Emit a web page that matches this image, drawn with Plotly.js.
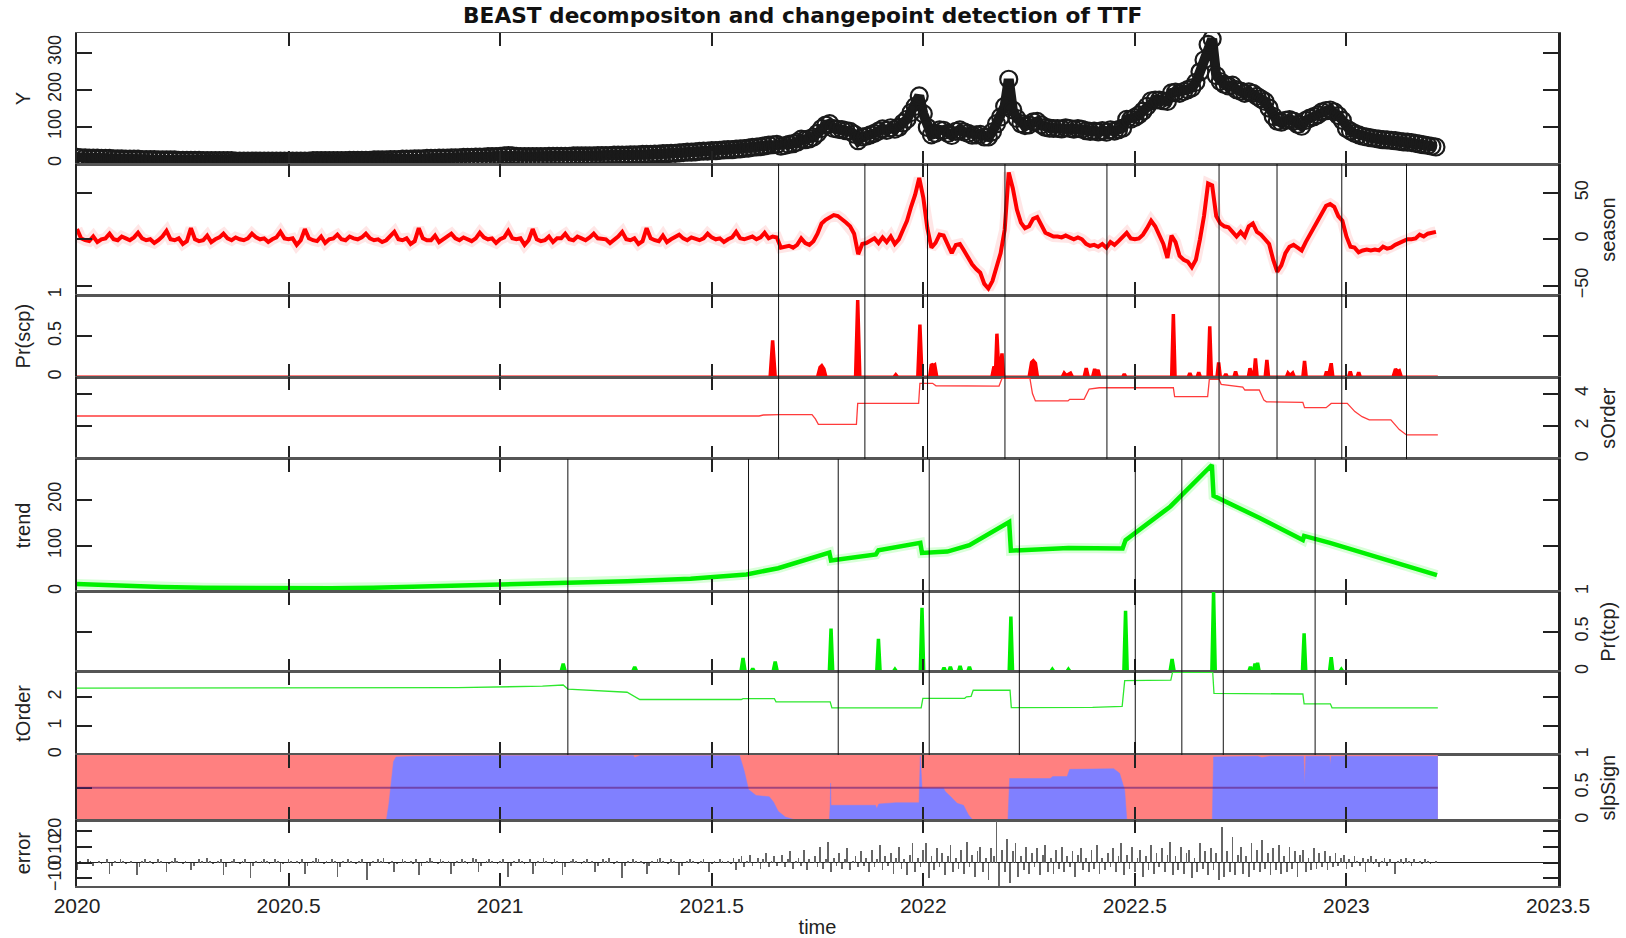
<!DOCTYPE html>
<html><head><meta charset="utf-8">
<script src="https://cdn.plot.ly/plotly-3.0.1.min.js"></script>
<style>html,body{margin:0;padding:0;background:#fff;} #chart{width:1626px;height:938px;}</style>
</head><body><div id="chart"></div>
<script>
// ---------- DATA ----------
const tStart = 2020.0;          // first observation (decimal year)
const stepHalfWeek = 1/104;      // spacing of yObs / season samples
const stepErr = 1/156;           // spacing of residual samples

const xTickVals = [2020, 2020.5, 2021, 2021.5, 2022, 2022.5, 2023, 2023.5];
const xTickText = ['2020','2020.5','2021','2021.5','2022','2022.5','2023','2023.5'];

// observed series Y
const yObs = [
17,16,16,15,15,15,14,14,14,13,13,13,12,12,
12,12,11,11,11,11,10,10,10,10,10,9,9,9,
9,9,9,8,8,8,8,8,8,8,8,7,7,7,
7,7,7,7,7,7,7,7,7,7,7,7,7,7,
7,7,8,8,8,8,8,8,8,8,8,9,9,9,
9,9,9,10,10,10,10,11,11,11,12,12,12,13,
13,13,14,14,14,15,15,15,16,16,16,17,17,17,
18,18,18,19,19,19,20,21,22,21,20,19,19,19,
19,19,19,19,20,20,20,20,20,20,21,21,21,21,
21,21,22,22,22,22,23,23,23,23,24,24,24,25,
25,25,26,26,27,27,28,28,29,30,31,31,32,33,
34,34,35,35,36,37,38,38,39,40,41,42,44,45,
46,48,50,51,
52,47,49,52,54,58,66,65,67,72,
82,95,104,108,95,93,92,89,87,80,
62,72,74,78,82,88,94,90,97,93,
98,110,120,138,155,183,135,98,78,82,
91,90,82,76,87,91,86,82,77,78,
79,72,72,86,108,126,155,228,145,122,
108,103,105,113,114,105,98,96,95,95,
94,97,95,93,95,93,89,87,88,86,
89,85,91,88,92,96,120,120,125,132,
142,155,170,172,172,170,168,191,193,190,
195,200,205,220,248,280,322,337,238,222,
214,210,212,200,196,190,194,190,182,175,
168,150,128,115,112,117,119,115,106,101,
117,123,127,132,140,143,145,140,130,117,
95,88,82,78,74,72,70,68,66,65,
64,63,62,60,59,58,57,55,53,51,
49,47,45];

// seasonal component
const season = [
11,1,-1,-2,3,-3,0,1,6,0,-1,3,1,-1,
2,7,1,-1,0,-4,-1,3,9,0,-1,1,-5,-2,
12,0,-2,-1,4,-3,0,2,6,1,-1,2,0,-1,
1,6,2,0,1,-3,0,2,8,1,0,1,-6,-1,
11,1,-1,-2,3,-4,0,1,5,0,-1,3,1,0,
2,6,1,-1,0,-3,-1,3,8,0,-1,1,-5,-2,
12,1,-1,-1,4,-3,0,2,6,1,-1,2,0,-2,
1,7,2,0,1,-4,0,2,9,1,0,1,-6,-1,
11,0,-2,-1,3,-3,1,1,6,0,-1,3,1,-1,
2,6,1,0,0,-4,-1,3,8,0,-1,1,-5,-2,
12,1,-1,-2,4,-3,0,2,5,1,-1,2,0,-1,
1,6,2,0,1,-3,0,2,8,1,0,1,3,0,
2,7,1,3,
2,-9,-8,-7,-9,-6,1,-4,-6,-2,
6,17,21,24,26,25,22,18,14,6,
-16,-5,-4,-2,1,-4,2,-3,3,-5,
0,10,20,35,48,66,45,12,-9,-4,
5,4,-6,-15,-6,-5,-12,-20,-27,-32,
-36,-48,-53,-45,-28,-15,10,72,55,32,
18,12,14,22,24,15,7,5,3,3,
2,4,2,0,2,0,-5,-7,-6,-8,
-5,-9,-3,-6,-2,2,7,1,0,1,
5,12,20,14,5,-5,-20,4,-3,-18,
-22,-24,-30,-22,0,25,60,58,25,17,
14,13,8,3,8,3,14,17,8,5,
0,-5,-22,-35,-28,-15,-8,-6,-9,-12,
-3,5,12,20,30,36,38,35,25,20,
3,-8,-9,-14,-12,-11,-12,-11,-12,-8,
-10,-9,-6,-4,-2,0,0,1,5,3,
6,7,8];

// residuals
const errorVals = [
-5,1,0,-1,2,1,-2,0,1,-1,0,2,-7,-2,1,0,2,1,-1,0,
1,0,-8,-3,1,2,0,1,-1,0,2,1,0,-6,-1,1,3,1,0,-1,
1,0,-5,-2,0,2,1,0,3,1,-1,0,1,2,-8,-3,0,1,2,0,
-1,1,2,0,-10,-2,1,0,1,2,1,-1,0,2,1,-6,-1,0,2,1,
0,1,-1,2,-7,-2,0,1,3,2,0,-1,1,0,2,1,-9,-3,1,0,
2,1,0,-1,1,2,0,-11,-2,1,0,2,1,3,0,-1,1,-6,-1,0,
2,1,0,1,-1,2,-8,-2,0,1,3,1,0,-1,2,1,0,1,-7,-2,
1,0,2,1,-1,0,3,2,-6,-2,0,1,2,1,0,-1,1,2,0,-9,
-2,1,0,2,1,-1,0,2,-7,-2,1,0,3,1,0,-1,2,1,0,-8,
-3,0,1,2,1,0,-1,1,2,0,1,-6,-2,0,2,1,3,0,-1,1,
0,-10,-2,1,0,2,1,0,1,-1,-7,-2,1,0,2,3,1,0,-1,2,
1,0,-8,-2,0,1,2,1,0,-1,1,2,0,-6,-1,1,0,2,1,0,
1,-1,3,-5,2,4,-3,1,5,-2,0,3,-4,2,6,-3,1,4,-2,0,
5,-3,2,7,-4,1,3,-2,8,-5,2,0,4,-3,10,-4,2,13,-6,3,
-2,6,-4,2,9,-5,1,4,-3,7,-2,3,-6,8,-3,2,11,-5,4,-2,
6,-7,3,10,-4,2,-8,5,12,-6,3,-3,8,12,-10,4,-5,9,-3,6,
-8,4,11,-6,3,-4,8,-7,13,-3,5,-9,7,10,-6,3,-11,9,4,26,
-15,8,-6,15,-13,7,12,-9,4,-5,10,-7,6,-3,9,-8,5,11,-6,3,
-7,8,-4,10,-6,4,-3,7,-9,5,9,-5,3,-6,8,-4,11,-7,3,-5,
6,-3,9,-6,4,12,-8,5,-4,10,-6,3,8,-9,4,-5,11,-7,6,-3,
9,-6,5,13,-8,4,-5,10,-7,6,8,-10,3,-6,12,-4,7,-8,9,-5,
6,-11,22,-9,7,-6,16,-8,5,10,-7,4,-9,12,-5,8,-6,14,-4,6,
-8,9,-5,11,-7,4,-6,10,-4,7,-9,5,8,-6,3,-5,9,-4,6,-3,
7,-5,4,-3,6,-2,3,5,-4,2,-3,4,1,-2,3,-6,2,4,-1,2,
-3,1,3,-2,2,0,-7,1,2,-1,3,1,-2,2,0,1,-1,2,1,-1,0,1];

// trend component  [time, value]
const trendCurve = [[2020.0,17],[2020.1,13],[2020.2,10],[2020.3,8.5],[2020.4,7.6],[2020.5,7.2],[2020.6,7.5],[2020.7,8.5],[2020.8,10.5],[2020.9,13.5],[2021.0,16.5],[2021.149,19],[2021.16,19],[2021.3,22.5],[2021.45,28],[2021.582,37.5],[2021.657,51],[2021.778,85],[2021.782,68],[2021.888,81],[2021.894,90],[2021.993,106],[2021.997,84],[2022.057,87],[2022.109,101],[2022.203,151],[2022.207,89],[2022.343,95],[2022.471,94],[2022.478,112],[2022.584,185],[2022.682,275],[2022.686,208],[2022.776,170],[2022.795,160],[2022.897,112],[2022.900,121],[2022.961,106],[2023.214,36]];

// probability of seasonal changepoint [time, prob]
const scpProb = [[2020.000,0],[2021.638,0],[2021.644,0.45],[2021.650,0],
[2021.750,0],[2021.756,0.12],[2021.760,0.14],[2021.765,0.1],[2021.770,0],
[2021.840,0],[2021.845,0.94],[2021.850,0],[2021.930,0],[2021.935,0.03],[2021.940,0],
[2021.987,0],[2021.992,0.64],[2021.997,0],[2022.015,0],[2022.019,0.16],[2022.024,0.14],[2022.027,0.15],[2022.032,0],
[2022.162,0],[2022.167,0.13],[2022.171,0.1],[2022.174,0.53],[2022.178,0.1],[2022.182,0.12],[2022.186,0.29],[2022.190,0],
[2022.250,0],[2022.256,0.18],[2022.260,0.2],[2022.265,0.17],[2022.270,0],
[2022.328,0],[2022.333,0.05],[2022.338,0.02],[2022.343,0.03],[2022.348,0.05],[2022.353,0],
[2022.380,0],[2022.385,0.11],[2022.390,0],[2022.400,0],[2022.405,0.1],[2022.409,0.05],[2022.413,0.09],[2022.417,0],
[2022.471,0],[2022.475,0.04],[2022.479,0],[2022.587,0],[2022.591,0.77],[2022.595,0],
[2022.626,0],[2022.630,0.05],[2022.634,0],[2022.647,0],[2022.651,0.06],[2022.655,0],
[2022.673,0],[2022.677,0.62],[2022.681,0],[2022.694,0],[2022.698,0.18],[2022.702,0],
[2022.711,0],[2022.715,0.04],[2022.719,0],[2022.734,0],[2022.738,0.07],[2022.742,0],
[2022.768,0],[2022.772,0.11],[2022.777,0.02],[2022.781,0],[2022.785,0.23],[2022.789,0],
[2022.808,0],[2022.812,0.21],[2022.816,0],[2022.858,0],[2022.862,0.05],[2022.867,0.02],[2022.873,0.05],[2022.877,0],
[2022.897,0],[2022.901,0.2],[2022.905,0],[2022.949,0],[2022.953,0.07],[2022.958,0.02],[2022.964,0.17],[2022.968,0],
[2023.005,0],[2023.009,0.07],[2023.013,0],[2023.025,0],[2023.029,0.06],[2023.033,0],
[2023.110,0],[2023.116,0.1],[2023.121,0.07],[2023.125,0.08],[2023.130,0],[2023.216,0]];

// probability of trend changepoint [time, prob]
const tcpProb = [[2020.000,0],[2020.550,0],[2020.555,0.01],[2020.560,0],
[2021.144,0],[2021.149,0.1],[2021.154,0],[2021.313,0],[2021.318,0.06],[2021.323,0],
[2021.569,0],[2021.574,0.17],[2021.579,0],[2021.593,0],[2021.597,0.04],[2021.601,0],
[2021.645,0],[2021.650,0.125],[2021.655,0],[2021.778,0],[2021.782,0.54],[2021.786,0],
[2021.890,0],[2021.894,0.41],[2021.898,0],[2021.929,0],[2021.933,0.03],[2021.937,0],
[2021.993,0],[2021.997,0.8],[2022.001,0],[2022.045,0],[2022.049,0.05],[2022.053,0],
[2022.060,0],[2022.064,0.06],[2022.068,0],[2022.083,0],[2022.087,0.07],[2022.091,0],
[2022.105,0],[2022.109,0.06],[2022.113,0],[2022.203,0],[2022.207,0.69],[2022.211,0],
[2022.301,0],[2022.305,0.03],[2022.309,0],[2022.339,0],[2022.343,0.03],[2022.347,0],
[2022.474,0],[2022.478,0.76],[2022.482,0],[2022.583,0],[2022.588,0.16],[2022.593,0],
[2022.682,0],[2022.686,1.0],[2022.690,0],[2022.769,0],[2022.773,0.06],[2022.777,0],
[2022.780,0],[2022.784,0.1],[2022.787,0.05],[2022.790,0.11],[2022.794,0],
[2022.896,0],[2022.900,0.48],[2022.904,0],[2022.960,0],[2022.964,0.18],[2022.968,0],
[2022.984,0],[2022.988,0.03],[2022.992,0],[2023.107,0],[2023.111,0.01],[2023.115,0],[2023.216,0]];

// mean harmonic order of season [time, order]
const sOrderCurve = [[2020.0,2.63],[2021.612,2.63],[2021.622,2.69],[2021.66,2.72],[2021.737,2.72],[2021.745,2.45],[2021.752,2.12],[2021.842,2.12],[2021.845,3.4],[2021.989,3.4],[2021.992,4.63],[2022.022,4.63],[2022.03,4.48],[2022.179,4.46],[2022.186,4.93],[2022.252,4.93],[2022.258,4.0],[2022.265,3.55],[2022.342,3.55],[2022.346,3.65],[2022.380,3.65],[2022.386,4.0],[2022.392,4.28],[2022.416,4.36],[2022.591,4.36],[2022.594,3.81],[2022.672,3.81],[2022.676,4.87],[2022.699,4.87],[2022.704,4.57],[2022.738,4.46],[2022.755,4.4],[2022.760,4.22],[2022.794,4.22],[2022.805,3.6],[2022.811,3.5],[2022.897,3.47],[2022.901,3.14],[2022.952,3.14],[2022.964,3.4],[2023.002,3.4],[2023.02,2.9],[2023.037,2.59],[2023.054,2.39],[2023.105,2.39],[2023.125,1.8],[2023.142,1.47],[2023.216,1.47]];

// mean polynomial order of trend [time, order]
const tOrderCurve = [[2020.0,2.31],[2020.9,2.33],[2021.10,2.38],[2021.149,2.42],[2021.16,2.28],[2021.30,2.17],[2021.33,1.92],[2021.570,1.92],[2021.574,1.95],[2021.648,1.95],[2021.652,1.84],[2021.780,1.84],[2021.784,1.63],[2021.995,1.63],[2021.999,1.96],[2022.098,1.96],[2022.102,2.01],[2022.113,2.03],[2022.118,2.24],[2022.205,2.24],[2022.208,1.64],[2022.40,1.65],[2022.47,1.68],[2022.476,2.57],[2022.585,2.59],[2022.589,2.86],[2022.684,2.86],[2022.687,2.13],[2022.897,2.11],[2022.900,1.77],[2022.962,1.77],[2022.966,1.63],[2023.216,1.63]];

// probability of positive slope (blue part) [time, prob]
const slpPosCurve = [[2020.0,0],[2020.731,0],[2020.737,0.25],[2020.743,0.6],[2020.748,0.9],[2020.754,0.97],[2020.80,0.98],[2021.0,0.99],[2021.315,0.99],[2021.318,0.96],[2021.33,0.99],[2021.566,0.99],[2021.577,0.75],[2021.587,0.47],[2021.605,0.38],[2021.636,0.36],[2021.646,0.28],[2021.657,0.14],[2021.674,0.05],[2021.696,0.01],[2021.778,0],[2021.780,0.23],[2021.781,0.57],[2021.782,0.23],[2021.887,0.23],[2021.890,0.18],[2021.895,0.25],[2021.935,0.27],[2021.990,0.27],[2021.993,0.98],[2021.997,0.49],[2022.048,0.49],[2022.052,0.44],[2022.065,0.36],[2022.080,0.26],[2022.095,0.23],[2022.107,0.08],[2022.118,0],[2022.200,0],[2022.204,0.64],[2022.300,0.64],[2022.306,0.67],[2022.340,0.67],[2022.346,0.78],[2022.450,0.79],[2022.464,0.72],[2022.476,0.46],[2022.481,0],[2022.683,0],[2022.686,0.97],[2022.79,0.98],[2022.80,0.96],[2022.82,0.98],[2022.899,0.98],[2022.901,0.54],[2022.904,0.98],[2022.960,0.98],[2022.962,0.85],[2022.964,0.98],[2023.216,0.98]];

// detected changepoints
const scpPoints = [2021.658, 2021.862, 2022.010, 2022.193, 2022.434, 2022.699, 2022.836, 2022.989, 2023.142];
const tcpPoints = [2021.160, 2021.587, 2021.799, 2022.014, 2022.227, 2022.501, 2022.611, 2022.709, 2022.926];

// ---------- BUILD ----------
const tGrid = yObs.map((_, i) => tStart + i*stepHalfWeek);
const tSeason = season.map((_, i) => tStart + i*stepHalfWeek);
const tErr = errorVals.map((_, i) => tStart + i*stepErr);
const col = (arr, k) => arr.map(p => p[k]);

const FONT = 'Liberation Sans, Arial, Helvetica, sans-serif';
const DOM = [[0.8464,1],[0.6928,0.8464],[0.5964,0.6928],[0.5006,0.5964],[0.3450,0.5006],[0.2512,0.3450],[0.1536,0.2512],[0.0770,0.1536],[0,0.0770]];
const sfx = k => (k === 1 ? '' : String(k));

const traces = [];
// Panel 1: Y
traces.push({x:tGrid, y:yObs, type:'scatter', mode:'lines+markers', xaxis:'x', yaxis:'y',
  line:{color:'#1a1a1a', width:10}, marker:{symbol:'circle-open', size:17, color:'#1a1a1a', line:{width:2.2}}, hoverinfo:'skip'});
// Panel 2: season
traces.push({x:tSeason, y:season, type:'scatter', mode:'lines', xaxis:'x2', yaxis:'y2',
  line:{color:'rgba(255,60,60,0.13)', width:11}, hoverinfo:'skip'});
traces.push({x:tSeason, y:season, type:'scatter', mode:'lines', xaxis:'x2', yaxis:'y2',
  line:{color:'#ff0000', width:4}, hoverinfo:'skip'});
// Panel 3: Pr(scp)
traces.push({x:col(scpProb,0), y:col(scpProb,1), type:'scatter', mode:'lines', fill:'tozeroy', fillcolor:'#ff0000', xaxis:'x3', yaxis:'y3',
  line:{color:'#ff0000', width:3.5}, hoverinfo:'skip'});
// Panel 4: sOrder
traces.push({x:col(sOrderCurve,0), y:col(sOrderCurve,1), type:'scatter', mode:'lines', xaxis:'x4', yaxis:'y4',
  line:{color:'#ff3b3b', width:1.3}, hoverinfo:'skip'});
// Panel 5: trend
traces.push({x:col(trendCurve,0), y:col(trendCurve,1), type:'scatter', mode:'lines', xaxis:'x5', yaxis:'y5',
  line:{color:'rgba(0,255,0,0.15)', width:10}, hoverinfo:'skip'});
traces.push({x:col(trendCurve,0), y:col(trendCurve,1), type:'scatter', mode:'lines', xaxis:'x5', yaxis:'y5',
  line:{color:'#00f000', width:4.5}, hoverinfo:'skip'});
// Panel 6: Pr(tcp)
traces.push({x:col(tcpProb,0), y:col(tcpProb,1), type:'scatter', mode:'lines', fill:'tozeroy', fillcolor:'#00ee00', xaxis:'x6', yaxis:'y6',
  line:{color:'#00ee00', width:3.5}, hoverinfo:'skip'});
// Panel 7: tOrder
traces.push({x:col(tOrderCurve,0), y:col(tOrderCurve,1), type:'scatter', mode:'lines', xaxis:'x7', yaxis:'y7',
  line:{color:'#2ee82e', width:1.3}, hoverinfo:'skip'});
// Panel 8: slpSign
const slpT = col(slpPosCurve,0);
traces.push({x:[slpT[0], slpT[slpT.length-1]], y:[1,1], type:'scatter', mode:'lines', fill:'tozeroy', fillcolor:'#ff8080', xaxis:'x8', yaxis:'y8',
  line:{width:0, color:'#ff8080'}, hoverinfo:'skip'});
traces.push({x:slpT, y:col(slpPosCurve,1), type:'scatter', mode:'lines', fill:'tozeroy', fillcolor:'#8080ff', xaxis:'x8', yaxis:'y8',
  line:{width:0.5, color:'#8080ff'}, hoverinfo:'skip'});
// Panel 9: error
traces.push({x:tErr, y:errorVals, type:'bar', width:0.0042, xaxis:'x9', yaxis:'y9',
  marker:{color:'#666666', line:{width:0}}, hoverinfo:'skip'});

const layout = {
  width:1626, height:938, showlegend:false,
  paper_bgcolor:'#ffffff', plot_bgcolor:'#ffffff',
  margin:{l:77, r:68, t:33, b:52},
  font:{family:FONT, color:'#222'},
  title:{text:'<b>BEAST decompositon and changepoint detection of TTF</b>', font:{size:21.7, family:'DejaVu Sans, Liberation Sans, Arial, sans-serif', color:'#111'},
         x:0.490, xref:'paper', xanchor:'center', y:0.984, yref:'container', yanchor:'middle'},
  shapes:[], bargap:0
};

const yCfg = [
  {side:'left',  title:'Y',       tv:[0,100,200,300], range:[-1,353]},
  {side:'right', title:'season',  tv:[-50,0,50],      range:[-60,81]},
  {side:'left',  title:'Pr(scp)', tv:[0,0.5,1],       range:[0,1]},
  {side:'right', title:'sOrder',  tv:[0,2,4],         range:[0,5]},
  {side:'left',  title:'trend',   tv:[0,100,200],     range:[0,288]},
  {side:'right', title:'Pr(tcp)', tv:[0,0.5,1],       range:[0,1]},
  {side:'left',  title:'tOrder',  tv:[0,1,2],         range:[0,2.88]},
  {side:'right', title:'slpSign', tv:[0,0.5,1],       range:[0,1]},
  {side:'left',  title:'error',   tv:[-10,0,10,20],   range:[-14.7,26.4]}
];

for (let k = 1; k <= 9; k++) {
  const c = yCfg[k-1];
  layout['xaxis'+sfx(k)] = {
    domain:[0,1], range:[2020,2023.5], anchor:'y'+sfx(k),
    tickvals:xTickVals, ticktext:xTickText, showticklabels:(k===9),
    ticks:'inside', ticklen:13, tickwidth:2, tickcolor:'#222',
    showline:true, mirror:'ticks', linecolor:'#555', linewidth:1.5,
    showgrid:false, zeroline:false, fixedrange:true,
    tickfont:{size:21, family:FONT, color:'#222'},
    title: k===9 ? {text:'time', font:{size:20, family:FONT, color:'#222'}, standoff:4} : {text:''}
  };
  layout['yaxis'+sfx(k)] = {
    domain:DOM[k-1], range:c.range, anchor:'x'+sfx(k), side:c.side,
    tickvals:c.tv, ticks:'inside', ticklen:15, tickwidth:2, tickcolor:'#222',
    showline:true, mirror:'ticks', linecolor:'#222', linewidth:2.5,
    showgrid:false, zeroline:(k===9), zerolinecolor:'#222', zerolinewidth:1,
    tickangle:-90, tickfont:{size:18, family:FONT, color:'#222'}, ticklabelstandoff:6,
    fixedrange:true,
    title:{text:c.title, font:{size:20, family:FONT, color:'#222'}, standoff:10}
  };
}

// changepoint vertical lines
scpPoints.forEach(t => layout.shapes.push({type:'line', xref:'x', yref:'paper', x0:t, x1:t,
  y0:DOM[3][0], y1:DOM[1][1], line:{color:'#111', width:1}}));
tcpPoints.forEach(t => layout.shapes.push({type:'line', xref:'x', yref:'paper', x0:t, x1:t,
  y0:DOM[6][0], y1:DOM[4][1], line:{color:'#111', width:1}}));
// 0.5 reference line in slpSign panel
layout.shapes.push({type:'line', xref:'x8', yref:'y8', x0:slpT[0], x1:slpT[slpT.length-1], y0:0.5, y1:0.5,
  line:{color:'rgba(100,30,120,0.6)', width:2}});

Plotly.newPlot('chart', traces, layout, {staticPlot:true, displayModeBar:false});
</script>
</body></html>
